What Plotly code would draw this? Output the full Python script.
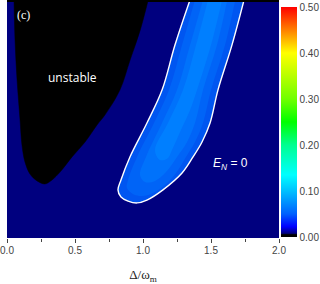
import plotly.graph_objects as go

# ---- data ----
x_tick_vals = [0.0, 0.5, 1.0, 1.5, 2.0]
x_tick_text = ["0.0", "0.5", "1.0", "1.5", "2.0"]
cb_tick_vals = [0.0, 0.1, 0.2, 0.3, 0.4, 0.5]
cb_tick_text = ["0.00", "0.10", "0.20", "0.30", "0.40", "0.50"]

# unstable (black) region boundary
unstable_x = [0.051, 0.059, 0.074, 0.096, 0.110, 0.132, 0.169, 0.221, 0.279,
              0.331, 0.390, 0.478, 0.574, 0.662, 0.720, 0.830, 0.905, 0.980, 1.045]
unstable_y = [1.02, 0.835, 0.667, 0.498, 0.392, 0.321, 0.270, 0.241, 0.228,
              0.245, 0.278, 0.342, 0.405, 0.477, 0.519, 0.624, 0.751, 0.878, 1.02]

# entangled region, outer boundary (E_N = 0 contour)
en_x = [1.355, 1.235, 1.140, 1.029, 0.904, 0.838, 0.816, 0.838, 0.890, 0.956,
        1.029, 1.147, 1.287, 1.368, 1.434, 1.493, 1.551, 1.654, 1.750]
en_y = [1.02, 0.814, 0.624, 0.485, 0.342, 0.245, 0.203, 0.173, 0.156, 0.148,
        0.160, 0.203, 0.274, 0.342, 0.405, 0.485, 0.624, 0.814, 1.02]

# inner shading levels of the entangled region
lvl2_x = [1.390, 1.287, 1.191, 1.081, 0.956, 0.890, 0.882, 0.926, 0.993,
          1.074, 1.169, 1.243, 1.316, 1.382, 1.441, 1.500, 1.603, 1.684]
lvl2_y = [1.02, 0.814, 0.624, 0.485, 0.342, 0.245, 0.211, 0.186, 0.177,
          0.190, 0.228, 0.274, 0.342, 0.405, 0.485, 0.624, 0.814, 1.02]
lvl3_x = [1.449, 1.346, 1.250, 1.140, 1.022, 0.978, 1.015,
          1.088, 1.169, 1.250, 1.324, 1.382, 1.441, 1.544, 1.625]
lvl3_y = [1.02, 0.814, 0.624, 0.485, 0.342, 0.266, 0.236,
          0.241, 0.278, 0.342, 0.405, 0.485, 0.624, 0.814, 1.02]
lvl4_x = [1.485, 1.390, 1.294, 1.184, 1.088, 1.125,
          1.184, 1.213, 1.279, 1.346, 1.397, 1.500, 1.588]
lvl4_y = [1.02, 0.814, 0.624, 0.485, 0.371, 0.329,
          0.338, 0.371, 0.456, 0.540, 0.624, 0.814, 1.02]

level_colors = ["#0056f1", "#0064f7", "#0072fb", "#007fff"]

colorscale = [
    [0.0, "#000000"], [0.010, "#000000"], [0.016, "#00007f"], [0.045, "#0000ff"],
    [0.10, "#0060ff"], [0.20, "#00c0ff"], [0.27, "#00ffff"], [0.40, "#00ff90"],
    [0.50, "#00ff00"], [0.60, "#70ff00"], [0.80, "#ffff00"], [0.90, "#ff8000"],
    [1.0, "#ff0000"],
]

fig = go.Figure()

fig.add_trace(go.Scatter(x=unstable_x, y=unstable_y, mode="lines", fill="toself",
                         fillcolor="#000000", line=dict(color="#000000", width=0.5, shape="spline"),
                         hoverinfo="skip", showlegend=False))
for lx, ly, col in zip([en_x, lvl2_x, lvl3_x, lvl4_x], [en_y, lvl2_y, lvl3_y, lvl4_y], level_colors):
    fig.add_trace(go.Scatter(x=lx, y=ly, mode="lines", fill="toself",
                             fillcolor=col, line=dict(color=col, width=0, shape="spline"),
                             hoverinfo="skip", showlegend=False))
# white E_N = 0 contour line on top
fig.add_trace(go.Scatter(x=en_x, y=en_y, mode="lines",
                         line=dict(color="white", width=1.4, shape="spline"),
                         hoverinfo="skip", showlegend=False))

# colorbar carrier (invisible markers)
fig.add_trace(go.Scatter(
    x=en_x[:len(cb_tick_vals)], y=en_y[:len(cb_tick_vals)], mode="markers",
    marker=dict(size=1, opacity=0, color=cb_tick_vals, colorscale=colorscale,
                cmin=0.0, cmax=0.5, showscale=True,
                colorbar=dict(x=1.0074, xanchor="left", xpad=0, ypad=0,
                              y=0.004, yanchor="bottom", lenmode="pixels", len=230,
                              thicknessmode="pixels", thickness=16,
                              outlinewidth=0, ticks="", tickvals=cb_tick_vals,
                              ticktext=cb_tick_text,
                              tickfont=dict(family="Liberation Sans", size=10, color="#444"))),
    hoverinfo="skip", showlegend=False))

fig.add_annotation(x=0.478, y=0.679, text="unstable", showarrow=False,
                   font=dict(family="Open Sans", size=12, color="white"))
fig.add_annotation(x=0.118, y=0.941, text="(c)", showarrow=False,
                   font=dict(family="Liberation Serif", size=12, color="white"))
fig.add_annotation(x=1.640, y=0.312, text="<i>E</i><sub><i>N</i></sub> = 0", showarrow=False,
                   font=dict(family="Liberation Sans", size=12, color="white"))

fig.add_shape(type="line", xref="paper", yref="paper", x0=0, x1=1, y0=1, y1=1,
              line=dict(color="black", width=2))

fig.update_layout(
    width=320, height=284,
    margin=dict(l=7, r=41, t=1, b=46),
    paper_bgcolor="white", plot_bgcolor="#00007f",
    showlegend=False,
    xaxis=dict(range=[0, 2], showgrid=False, zeroline=False, showline=False,
               ticks="outside", ticklen=4, tickwidth=1, tickcolor="#444",
               tickvals=x_tick_vals, ticktext=x_tick_text, ticklabelstandoff=-1,
               tickfont=dict(family="Liberation Sans", size=10, color="#444"),
               minor=dict(ticks="outside", ticklen=3, tickcolor="#444", dtick=0.25, showgrid=False),
               title=dict(text="Δ/ω<sub>m</sub>", standoff=15,
                          font=dict(family="Liberation Serif", size=13, color="#222"))),
    yaxis=dict(range=[0, 1], showgrid=False, zeroline=False, showticklabels=False,
               ticks="", showline=True, linecolor="white", linewidth=1, mirror=True),
)

fig.write_html("out.html", config={"displayModeBar": False},
               post_script="document.body.style.margin='0px';document.body.style.padding='0px';")
